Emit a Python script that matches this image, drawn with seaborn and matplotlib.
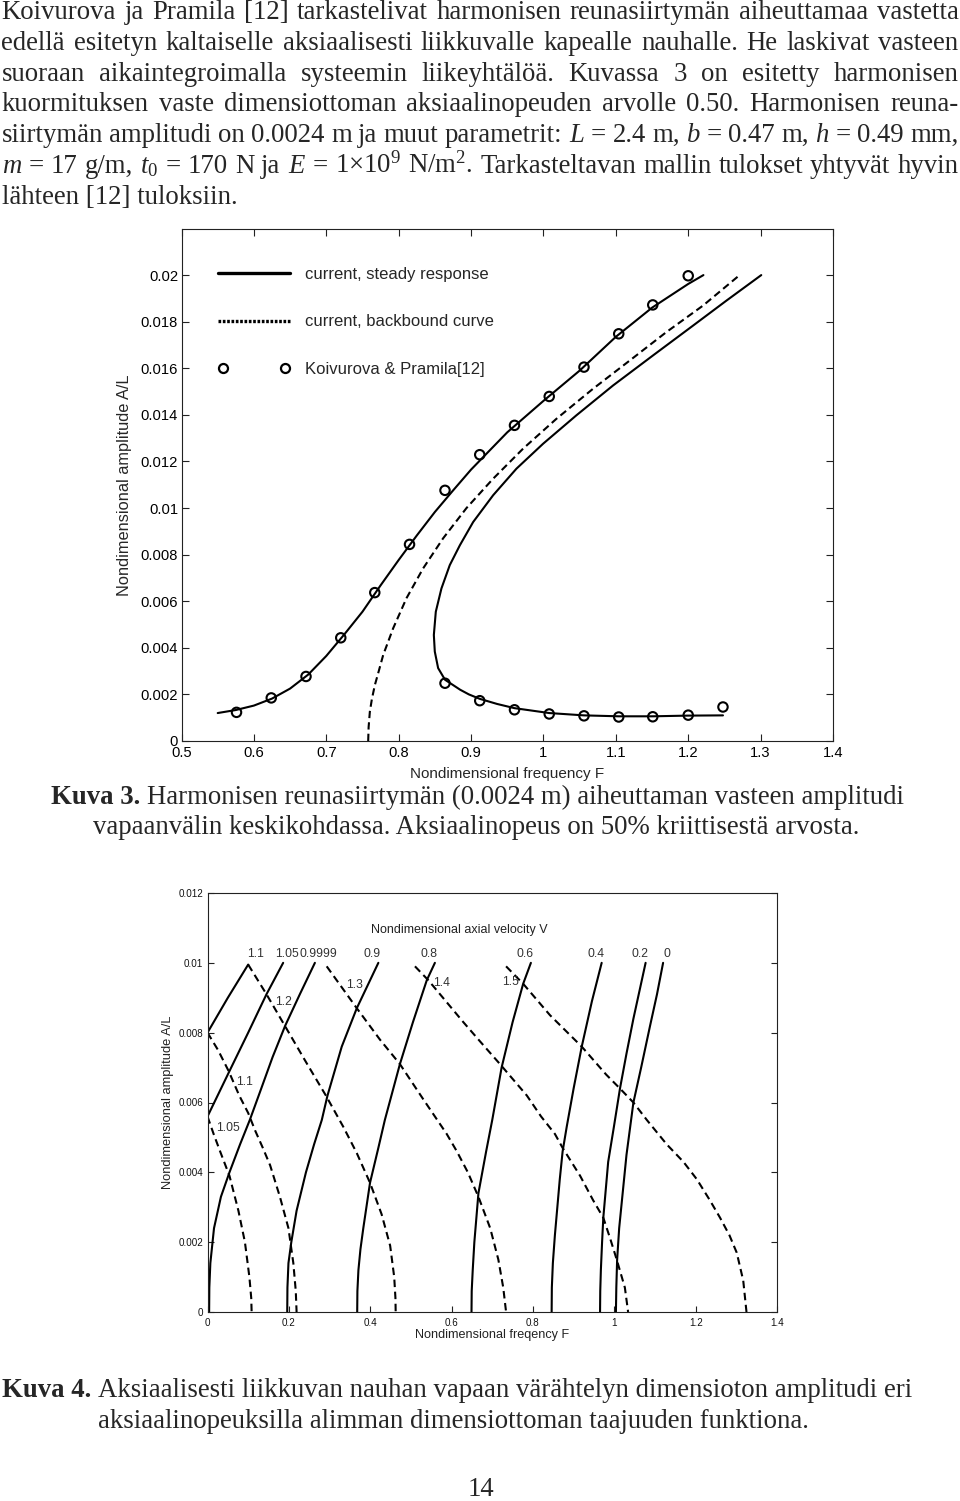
import matplotlib
matplotlib.use("Agg")
import matplotlib.pyplot as plt
from matplotlib.lines import Line2D
from matplotlib.legend_handler import HandlerLine2D
import seaborn as sns

# ---------------- Kuva 3 data ----------------
steady_F = [0.550, 0.575, 0.600, 0.625, 0.650, 0.675, 0.700, 0.725, 0.750, 0.775, 0.800,
            0.825, 0.850, 0.875, 0.900, 0.950, 1.000, 1.050, 1.100, 1.150, 1.200, 1.221]
steady_A = [0.00120, 0.00133, 0.00152, 0.00182, 0.00225, 0.00285, 0.00365, 0.00458, 0.00555,
            0.00668, 0.00777, 0.00882, 0.00983, 0.01075, 0.01165, 0.01325, 0.01460, 0.01590,
            0.01735, 0.01860, 0.01962, 0.02000]

branch_F = [1.248, 1.200, 1.151, 1.104, 1.056, 1.008, 0.960, 0.936, 0.912, 0.897, 0.885,
            0.864, 0.8545, 0.8499, 0.8486, 0.8513, 0.8591, 0.8706, 0.8845, 0.9029, 0.9305,
            0.9627, 0.9995, 1.0455, 1.0961, 1.1513, 1.2066, 1.2526, 1.3009]
branch_A = [0.00110, 0.00109, 0.00106, 0.00106, 0.00110, 0.00120, 0.00141, 0.00159, 0.00181,
            0.00200, 0.00220, 0.00263, 0.00313, 0.00384, 0.00455, 0.00555, 0.00655, 0.00755,
            0.00840, 0.00940, 0.01055, 0.01169, 0.01276, 0.01398, 0.01526, 0.01655, 0.01783,
            0.01890, 0.02000]

backbone_F = [0.7579, 0.7585, 0.7602, 0.7630, 0.7671, 0.7725, 0.7786, 0.7924, 0.8108, 0.8338,
              0.8614, 0.8937, 0.9305, 0.9719, 1.0179, 1.0685, 1.1191, 1.1697, 1.2204, 1.2710]
backbone_A = [0.0, 0.0006, 0.00126, 0.0018, 0.0024, 0.0030, 0.00369, 0.00484, 0.00613, 0.00741,
              0.0087, 0.0100, 0.01126, 0.01255, 0.01383, 0.01512, 0.01633, 0.01755, 0.01869, 0.0200]

ref_F = [0.576, 0.624, 0.672, 0.720, 0.767, 0.815, 0.864, 0.912, 0.960, 1.008, 1.056, 1.104,
         1.151, 1.200, 0.864, 0.912, 0.960, 1.008, 1.056, 1.104, 1.151, 1.200, 1.248]
ref_A = [0.00123, 0.00185, 0.00277, 0.00443, 0.00637, 0.00844, 0.01076, 0.01229, 0.01355,
         0.01479, 0.01605, 0.01748, 0.01872, 0.01997, 0.00248, 0.00173, 0.00134, 0.00116,
         0.00108, 0.00103, 0.00104, 0.00111, 0.00146]

k3_xticks = [0.5, 0.6, 0.7, 0.8, 0.9, 1.0, 1.1, 1.2, 1.3, 1.4]
k3_xlabels = ["0.5", "0.6", "0.7", "0.8", "0.9", "1", "1.1", "1.2", "1.3", "1.4"]
k3_yticks = [0, 0.002, 0.004, 0.006, 0.008, 0.010, 0.012, 0.014, 0.016, 0.018, 0.020]
k3_ylabels = ["0", "0.002", "0.004", "0.006", "0.008", "0.01", "0.012", "0.014", "0.016", "0.018", "0.02"]
legend_labels = ["current, steady response", "current, backbound curve", "Koivurova & Pramila[12]"]

# ---------------- Kuva 4 data (solid branches) ----------------
s0_F = [1.004, 1.005, 1.007, 1.012, 1.018, 1.030, 1.047, 1.066, 1.088, 1.105, 1.120]
s0_A = [0.0, 0.0007, 0.0015, 0.0024, 0.0031, 0.0045, 0.0060, 0.0070, 0.0082, 0.0091, 0.0100]
s02_F = [0.965, 0.9655, 0.967, 0.970, 0.973, 0.985, 0.999, 1.014, 1.030, 1.047, 1.062, 1.077]
s02_A = [0.0, 0.0006, 0.0012, 0.0020, 0.0027, 0.0043, 0.0053, 0.0064, 0.0074, 0.0084, 0.0092, 0.0100]
s04_F = [0.846, 0.8465, 0.849, 0.854, 0.866, 0.873, 0.883, 0.900, 0.920, 0.945, 0.969]
s04_A = [0.0, 0.0007, 0.0014, 0.0022, 0.0038, 0.0046, 0.0053, 0.0064, 0.0076, 0.0089, 0.0100]
s06_F = [0.649, 0.6495, 0.652, 0.656, 0.666, 0.685, 0.700, 0.723, 0.750, 0.776, 0.795]
s06_A = [0.0, 0.0006, 0.0012, 0.0020, 0.0034, 0.0046, 0.0055, 0.0070, 0.0083, 0.0094, 0.0100]
s08_F = [0.368, 0.3685, 0.371, 0.376, 0.383, 0.3995, 0.420, 0.436, 0.473, 0.505, 0.539, 0.559]
s08_A = [0.0, 0.0006, 0.0012, 0.0018, 0.0024, 0.0037, 0.0047, 0.0055, 0.0071, 0.0083, 0.0095, 0.0100]
s09_F = [0.196, 0.1965, 0.199, 0.206, 0.219, 0.242, 0.262, 0.281, 0.295, 0.330, 0.367, 0.420]
s09_A = [0.0, 0.0007, 0.0014, 0.0020, 0.0029, 0.0040, 0.0048, 0.0055, 0.0062, 0.0076, 0.0087, 0.0100]
s09999_F = [0.004, 0.0045, 0.007, 0.016, 0.033, 0.054, 0.080, 0.104, 0.129, 0.160, 0.191, 0.227, 0.264]
s09999_A = [0.0, 0.0007, 0.0014, 0.0024, 0.0033, 0.0040, 0.0048, 0.0055, 0.0063, 0.0073, 0.0082, 0.0091, 0.0100]
s105_F = [0.0, 0.054, 0.100, 0.145, 0.186]
s105_A = [0.0056, 0.0069, 0.0080, 0.0091, 0.0100]
s11_F = [0.0, 0.050, 0.100]
s11_A = [0.0080, 0.0090, 0.00995]

# ---------------- Kuva 4 data (dashed branches) ----------------
d105_F = [0.0, 0.015, 0.031, 0.054, 0.076, 0.092, 0.103, 0.1075, 0.1085]
d105_A = [0.0056, 0.0051, 0.0046, 0.0039, 0.0029, 0.0020, 0.0010, 0.0004, 0.0]
d11_F = [0.0, 0.026, 0.052, 0.078, 0.100, 0.117, 0.136, 0.154, 0.178, 0.199, 0.211, 0.217, 0.219]
d11_A = [0.0080, 0.0075, 0.0069, 0.0062, 0.0057, 0.0052, 0.0047, 0.0042, 0.0033, 0.0024, 0.0014, 0.0006, 0.0]
d12_F = [0.100, 0.145, 0.190, 0.240, 0.291, 0.334, 0.367, 0.3995, 0.428, 0.449, 0.459, 0.462, 0.4626]
d12_A = [0.00995, 0.0091, 0.0082, 0.0072, 0.0062, 0.0053, 0.00455, 0.0037, 0.0028, 0.0019, 0.0010, 0.0004, 0.0]
d13_F = [0.293, 0.330, 0.367, 0.424, 0.473, 0.530, 0.588, 0.613, 0.640, 0.666, 0.695, 0.715, 0.727, 0.734]
d13_A = [0.0099, 0.0093, 0.0087, 0.0078, 0.0071, 0.0061, 0.0051, 0.0046, 0.0040, 0.0033, 0.0024, 0.0015, 0.0007, 0.0]
d14_F = [0.510, 0.543, 0.586, 0.629, 0.670, 0.719, 0.785, 0.820, 0.854, 0.873, 0.916, 0.948, 0.973,
         0.990, 1.006, 1.026, 1.034]
d14_A = [0.0099, 0.0095, 0.0089, 0.0083, 0.00775, 0.0071, 0.0062, 0.0056, 0.0051, 0.0047, 0.0039,
         0.0032, 0.0027, 0.0021, 0.0015, 0.0007, 0.0]
d15_F = [0.734, 0.776, 0.842, 0.920, 0.980, 1.014, 1.047, 1.080, 1.129, 1.170, 1.203, 1.235, 1.260,
         1.283, 1.301, 1.317, 1.325]
d15_A = [0.0099, 0.0094, 0.0085, 0.0076, 0.0068, 0.0064, 0.0060, 0.0055, 0.0048, 0.0043, 0.0038,
         0.0032, 0.0027, 0.0022, 0.0017, 0.0009, 0.0]

top_labels = ["1.1", "1.05", "0.9999", "0.9", "0.8", "0.6", "0.4", "0.2", "0"]
top_label_F = [0.117, 0.1955, 0.273, 0.404, 0.545, 0.780, 0.955, 1.063, 1.129]
top_label_A = 0.01025
low_labels = ["1.2", "1.3", "1.4", "1.5", "1.1", "1.05"]
low_label_F = [0.1864, 0.3626, 0.5757, 0.745, 0.0922, 0.051]
low_label_A = [0.00889, 0.00937, 0.00942, 0.00945, 0.0066, 0.00526]

k4_xticks = [0, 0.2, 0.4, 0.6, 0.8, 1.0, 1.2, 1.4]
k4_xlabels = ["0", "0.2", "0.4", "0.6", "0.8", "1", "1.2", "1.4"]
k4_yticks = [0, 0.002, 0.004, 0.006, 0.008, 0.010, 0.012]
k4_ylabels = ["0", "0.002", "0.004", "0.006", "0.008", "0.01", "0.012"]

# ---------------- page text ----------------
body_lines = [
    "Koivurova ja Pramila [12] tarkastelivat harmonisen reunasiirtymän aiheuttamaa vastetta",
    "edellä esitetyn kaltaiselle aksiaalisesti liikkuvalle kapealle nauhalle. He laskivat vasteen",
    "suoraan aikaintegroimalla systeemin liikeyhtälöä. Kuvassa 3 on esitetty harmonisen",
    "kuormituksen vaste dimensiottoman aksiaalinopeuden arvolle 0.50. Harmonisen reuna-",
    "siirtymän amplitudi on 0.0024 m ja muut parametrit: $L$ = 2.4 m, $b$ = 0.47 m, $h$ = 0.49 mm,",
    "$m$ = 17 g/m, $t_0$ = 170 N ja $E$ = 1×10$^9$ N/m$^2$. Tarkasteltavan mallin tulokset yhtyvät hyvin",
    "lähteen [12] tuloksiin.",
]
cap3_bold = "Kuva 3."
cap3_lines = ["Harmonisen reunasiirtymän (0.0024 m) aiheuttaman vasteen amplitudi",
              "vapaanvälin keskikohdassa. Aksiaalinopeus on 50% kriittisestä arvosta."]
cap4_bold = "Kuva 4."
cap4_lines = ["Aksiaalisesti liikkuvan nauhan vapaan värähtelyn dimensioton amplitudi eri",
              "aksiaalinopeuksilla alimman dimensiottoman taajuuden funktiona."]
page_number = "14"

# ---------------- style ----------------
sns.set_theme(style="ticks")
plt.rcParams["font.family"] = ["Liberation Sans", "DejaVu Sans"]
plt.rcParams["mathtext.fontset"] = "custom"
plt.rcParams["mathtext.rm"] = "Liberation Serif"
plt.rcParams["mathtext.it"] = "Liberation Serif:italic"
plt.rcParams["mathtext.bf"] = "Liberation Serif:bold"
plt.rcParams["axes.edgecolor"] = "#222222"
plt.rcParams["axes.linewidth"] = 0.8

W, H = 960, 1501
fig = plt.figure(figsize=(W / 100, H / 100), dpi=100)
fig.patch.set_facecolor("white")
renderer = fig.canvas.get_renderer()
SERIF = ["Liberation Serif", "DejaVu Serif"]
BODY = 19.3


def fx(x):
    return x / W


def fy(y):
    return 1 - y / H


def text_width(s, **kw):
    t = fig.text(0, 0, s, **kw)
    w = t.get_window_extent(renderer).width
    t.remove()
    return w


def justified(line, x0, x1, y):
    words = line.split(" ")
    widths = [text_width(w, fontsize=BODY, family=SERIF) for w in words]
    gap = (x1 - x0 - sum(widths)) / (len(words) - 1)
    x = x0
    for w, wd in zip(words, widths):
        fig.text(fx(x), fy(y), w, fontsize=BODY, family=SERIF, ha="left", va="baseline")
        x += wd + gap


def plain(line, x0, y, weight="normal"):
    fig.text(fx(x0), fy(y), line, fontsize=BODY, family=SERIF, ha="left", va="baseline",
             fontweight=weight)


# body paragraph
base0, step = 19.0, 30.8
for i, line in enumerate(body_lines):
    y = base0 + step * i
    if i < len(body_lines) - 1:
        justified(line, 1.5, 958.5, y)
    else:
        plain(line, 1.5, y)

space_w = text_width("x x", fontsize=BODY, family=SERIF) - text_width("xx", fontsize=BODY, family=SERIF)

# caption 3
bw = text_width(cap3_bold, fontsize=BODY, family=SERIF, fontweight="bold")
plain(cap3_bold, 50.7, 804, weight="bold")
plain(cap3_lines[0], 50.7 + bw + space_w, 804)
plain(cap3_lines[1], 93.3, 834.5)

# caption 4
bw = text_width(cap4_bold, fontsize=BODY, family=SERIF, fontweight="bold")
plain(cap4_bold, 1.5, 1397, weight="bold")
plain(cap4_lines[0], 1.5 + bw + space_w, 1397)
plain(cap4_lines[1], 98.3, 1427.5)

fig.text(fx(481), fy(1495.5), page_number, fontsize=BODY, family=SERIF, ha="center", va="baseline")

# ---------------- Kuva 3 chart ----------------
ax1 = fig.add_axes([fx(181.5), fy(741), (833 - 181.5) / W, (741 - 228.5) / H])
sns.lineplot(x=steady_F, y=steady_A, ax=ax1, sort=False, estimator=None, color="black", linewidth=1.5)
sns.lineplot(x=branch_F, y=branch_A, ax=ax1, sort=False, estimator=None, color="black", linewidth=1.5)
sns.lineplot(x=backbone_F, y=backbone_A, ax=ax1, sort=False, estimator=None, color="black",
             linewidth=1.5, linestyle=(0, (3.5, 2)))
sns.scatterplot(x=ref_F, y=ref_A, ax=ax1, marker="o", s=46, facecolor="none", edgecolor="black",
                linewidth=1.5, zorder=3)
ax1.set_xlim(0.5, 1.4)
ax1.set_ylim(0, 0.022)
ax1.set_xticks(k3_xticks)
ax1.set_xticklabels(k3_xlabels)
ax1.set_yticks(k3_yticks)
ax1.set_yticklabels(k3_ylabels)
ax1.tick_params(direction="in", length=5, width=0.8, top=True, right=True, labelsize=10.6,
                colors="#222222", labelcolor="black")
ax1.tick_params(axis="y", pad=2.5)
ax1.tick_params(axis="x", pad=3.6)
ax1.set_xlabel("Nondimensional frequency F", fontsize=11, labelpad=5)
ax1.set_ylabel("Nondimensional amplitude A/L", fontsize=11.8, labelpad=6.5)

h1 = Line2D([], [], color="black", lw=2.4)
h2 = Line2D([], [], color="black", lw=2.4, linestyle=(0, (0.8, 0.5)))
h3 = Line2D([], [], color="black", lw=0, marker="o", markerfacecolor="none", markeredgecolor="black",
            markersize=6.5, markeredgewidth=1.6)
ax1.legend(handles=[h1, h2, h3], labels=legend_labels, loc="upper left", bbox_to_anchor=(0.056, 0.925),
           frameon=False, fontsize=12, handlelength=4.3, handletextpad=0.9, labelspacing=1.95,
           borderpad=0, borderaxespad=0,
           handler_map={h1: HandlerLine2D(numpoints=1), h2: HandlerLine2D(numpoints=1),
                        h3: HandlerLine2D(numpoints=2)})

# ---------------- Kuva 4 chart ----------------
ax2 = fig.add_axes([fx(207.5), fy(1312), (777 - 207.5) / W, (1312 - 893) / H])
solid_curves = [(s0_F, s0_A), (s02_F, s02_A), (s04_F, s04_A), (s06_F, s06_A), (s08_F, s08_A),
                (s09_F, s09_A), (s09999_F, s09999_A), (s105_F, s105_A), (s11_F, s11_A)]
dashed_curves = [(d105_F, d105_A), (d11_F, d11_A), (d12_F, d12_A), (d13_F, d13_A),
                 (d14_F, d14_A), (d15_F, d15_A)]
for cf, ca in solid_curves:
    sns.lineplot(x=cf, y=ca, ax=ax2, sort=False, estimator=None, color="black", linewidth=1.5)
for cf, ca in dashed_curves:
    sns.lineplot(x=cf, y=ca, ax=ax2, sort=False, estimator=None, color="black", linewidth=1.5,
                 linestyle=(0, (3.6, 2.2)))
ax2.set_xlim(0, 1.4)
ax2.set_ylim(0, 0.012)
ax2.set_xticks(k4_xticks)
ax2.set_xticklabels(k4_xlabels)
ax2.set_yticks(k4_yticks)
ax2.set_yticklabels(k4_ylabels)
ax2.tick_params(direction="in", length=4, width=0.8, right=True, top=False, labelsize=7.1,
                colors="#222222", labelcolor="#111111")
ax2.tick_params(axis="y", pad=3.2)
ax2.tick_params(axis="x", pad=4.3)
ax2.set_xlabel("Nondimensional freqency F", fontsize=9.1, labelpad=1, color="#222222")
ax2.set_ylabel("Nondimensional amplitude A/L", fontsize=9.3, labelpad=3, color="#222222")
ax2.text(0.62, 0.01095, "Nondimensional axial velocity V", fontsize=9, ha="center", va="center",
         color="#222222")
for lab, f in zip(top_labels, top_label_F):
    ax2.text(f, top_label_A, lab, fontsize=8.7, ha="center", va="center", color="#333333")
for lab, f, a in zip(low_labels, low_label_F, low_label_A):
    ax2.text(f, a, lab, fontsize=8.7, ha="center", va="center", color="#333333")

fig.savefig("out.png", dpi=100, facecolor="white")
